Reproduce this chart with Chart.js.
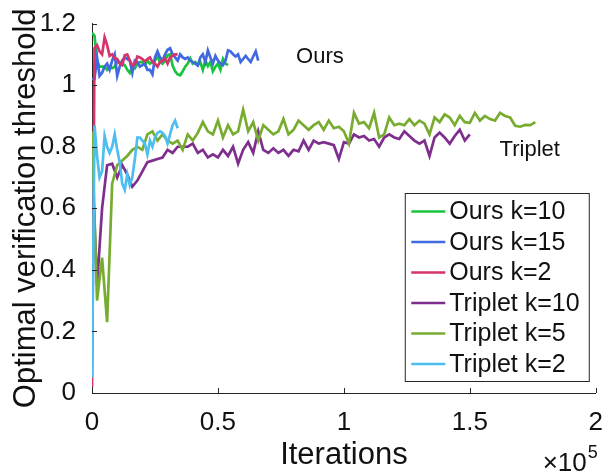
<!DOCTYPE html>
<html>
<head>
<meta charset="utf-8">
<script src="https://cdn.jsdelivr.net/npm/chart.js@4.4.0/dist/chart.umd.min.js"></script>
<style>
html, body { margin: 0; padding: 0; background: #fff; }
canvas { display: block; }
</style>
</head>
<body>
<canvas id="chart" width="609" height="474"></canvas>
<script>
var seriesNames = ["Ours k=10", "Ours k=15", "Ours k=2", "Triplet k=10", "Triplet k=5", "Triplet k=2"];
var seriesColors = ["#18c43c", "#4169e1", "#d6336b", "#7e2f8e", "#77ac30", "#4dbeee"];
var seriesSteps = [1000, 1000, 1000, 2000, 2000, 1000]; // iterations between samples

var oursK10 = [
    1.17, 1.16, 1.08, 1.06, 1.06, 1.06, 1.05, 1.06, 1.055, 1.06,
    1.075, 1.075, 1.07, 1.065, 1.05, 1.04, 1.06, 1.055, 1.07, 1.075,
    1.075, 1.065, 1.08, 1.07, 1.075, 1.08, 1.093, 1.075, 1.07, 1.08,
    1.097, 1.10, 1.064, 1.045, 1.035, 1.032, 1.045, 1.06, 1.07, 1.087,
    1.07, 1.075, 1.065, 1.075, 1.05, 1.08, 1.062, 1.075, 1.045, 1.06,
    1.07, 1.05, 1.085, 1.07, 1.065
];
var oursK15 = [
    1.02, 1.02, 1.09, 1.03, 1.04, 1.06, 1.07, 1.05, 1.08, 1.10,
    1.03, 1.06, 1.08, 1.09, 1.085, 1.08, 1.04, 1.08, 1.075, 1.06,
    1.065, 1.07, 1.05, 1.05, 1.035, 1.09, 1.11, 1.09, 1.08, 1.10,
    1.115, 1.12, 1.10, 1.09, 1.08, 1.10, 1.09, 1.085, 1.09, 1.08,
    1.075, 1.07, 1.064, 1.09, 1.10, 1.075, 1.113, 1.09, 1.07, 1.095,
    1.08, 1.07, 1.065, 1.08, 1.113, 1.11, 1.10, 1.093, 1.10, 1.075,
    1.085, 1.095, 1.085, 1.075, 1.093, 1.11, 1.08
];
var oursK2 = [
    0.02, 1.12, 1.13, 1.11, 1.10, 1.155, 1.13, 1.095, 1.10, 1.087,
    1.085, 1.07, 1.065, 1.097, 1.10, 1.08, 1.064, 1.068, 1.093, 1.09,
    1.085, 1.077, 1.085, 1.09, 1.075, 1.07, 1.06, 1.075, 1.08, 1.087,
    1.07, 1.09, 1.095, 1.10, 1.10
];
var tripletK10 = [
    0.75, 0.35, 0.60, 0.74, 0.745, 0.70, 0.74, 0.71, 0.67, 0.69,
    0.72, 0.75, 0.755, 0.76, 0.765, 0.79, 0.78, 0.80, 0.80, 0.80,
    0.81, 0.78, 0.79, 0.765, 0.775, 0.765, 0.79, 0.77, 0.80, 0.745,
    0.79, 0.815, 0.78, 0.85, 0.79, 0.78, 0.795, 0.78, 0.79, 0.77,
    0.79, 0.785, 0.82, 0.79, 0.82, 0.81, 0.815, 0.81, 0.805, 0.76,
    0.815, 0.81, 0.84, 0.83, 0.835, 0.82, 0.825, 0.80, 0.83, 0.84,
    0.83, 0.825, 0.85, 0.835, 0.82, 0.81, 0.82, 0.77, 0.83, 0.846,
    0.83, 0.81, 0.835, 0.855, 0.82, 0.84
];
var tripletK5 = [
    0.85, 0.30, 0.44, 0.23, 0.68, 0.74, 0.755, 0.77, 0.79, 0.80,
    0.79, 0.84, 0.85, 0.82, 0.84, 0.82, 0.81, 0.82, 0.79, 0.84,
    0.82, 0.845, 0.88, 0.85, 0.84, 0.885, 0.83, 0.87, 0.84, 0.85,
    0.92, 0.85, 0.88, 0.82, 0.87, 0.855, 0.84, 0.85, 0.89, 0.84,
    0.855, 0.885, 0.87, 0.855, 0.87, 0.88, 0.855, 0.885, 0.86, 0.865,
    0.85, 0.81, 0.91, 0.875, 0.88, 0.86, 0.91, 0.83, 0.84, 0.895,
    0.87, 0.875, 0.87, 0.89, 0.87, 0.885, 0.875, 0.84, 0.895, 0.88,
    0.905, 0.895, 0.87, 0.90, 0.88, 0.878, 0.91, 0.885, 0.90, 0.89,
    0.885, 0.91, 0.90, 0.895, 0.868, 0.865, 0.871, 0.87, 0.88
];
var tripletK2 = [
    0.05, 0.87, 0.77, 0.70, 0.72, 0.835, 0.80, 0.78, 0.80, 0.84,
    0.79, 0.75, 0.68, 0.66, 0.71, 0.675, 0.70, 0.76, 0.83, 0.83,
    0.82, 0.81, 0.775, 0.82, 0.80, 0.83, 0.845, 0.85, 0.845, 0.835,
    0.81, 0.84, 0.87, 0.885, 0.86
];

var xTicks = [0, 50000, 100000, 150000, 200000];
var yTicks = [0, 0.2, 0.4, 0.6, 0.8, 1, 1.2];
var notes = [
    { text: "Ours", x: 90500, y: 1.093 },
    { text: "Triplet", x: 173800, y: 0.788 }
];

var allValues = [oursK10, oursK15, oursK2, tripletK10, tripletK5, tripletK2];
var axisColor = "#262626";
var textColor = "#111";
var fontFamily = "'Liberation Sans', Arial, sans-serif";

var toPoints = function (values, step) {
    return values.map(function (v, i) {
        return { x: i * step, y: v };
    });
};

var datasets = allValues.map(function (vals, i) {
    return {
        label: seriesNames[i],
        data: toPoints(vals, seriesSteps[i]),
        borderColor: seriesColors[i],
        backgroundColor: seriesColors[i],
        borderWidth: 2.7,
        pointRadius: 0,
        fill: false,
        tension: 0,
        order: allValues.length - i // later series on top, as in the figure
    };
});

// inward ticks, x10^5 multiplier, text notes and the boxed legend
var extras = {
    id: "extras",
    afterDraw: function (chart) {
        var ctx = chart.ctx;
        var xs = chart.scales.x, ys = chart.scales.y;
        var area = chart.chartArea;
        ctx.save();
        ctx.strokeStyle = axisColor;
        ctx.lineWidth = 1;
        xTicks.forEach(function (t) {
            var px = Math.round(xs.getPixelForValue(t)) + 0.5;
            ctx.beginPath();
            ctx.moveTo(px, area.bottom);
            ctx.lineTo(px, area.bottom - 5);
            ctx.stroke();
        });
        yTicks.forEach(function (t) {
            var py = Math.round(ys.getPixelForValue(t)) + 0.5;
            ctx.beginPath();
            ctx.moveTo(area.left, py);
            ctx.lineTo(area.left + 5, py);
            ctx.stroke();
        });

        ctx.fillStyle = textColor;
        ctx.textBaseline = "alphabetic";
        ctx.textAlign = "right";
        ctx.font = "26px " + fontFamily;
        ctx.fillText("\u00d710", area.right - 9, 471);
        ctx.textAlign = "left";
        ctx.font = "18px " + fontFamily;
        ctx.fillText("5", area.right - 8, 458);

        ctx.font = "22px " + fontFamily;
        ctx.textAlign = "center";
        ctx.textBaseline = "middle";
        notes.forEach(function (n) {
            ctx.fillText(n.text, xs.getPixelForValue(n.x), ys.getPixelForValue(n.y));
        });

        // legend box
        var boxW = 184, boxH = 188;
        var bx = area.right - 7 - boxW + 0.5;
        var by = area.bottom - 12 - boxH + 0.5;
        ctx.fillStyle = "#fff";
        ctx.fillRect(bx, by, boxW, boxH);
        ctx.strokeStyle = axisColor;
        ctx.lineWidth = 1;
        ctx.strokeRect(bx, by, boxW, boxH);
        ctx.font = "25px " + fontFamily;
        ctx.textAlign = "left";
        chart.data.datasets.forEach(function (ds, i) {
            var cy = by + 18 + i * 30.5;
            ctx.strokeStyle = ds.borderColor;
            ctx.lineWidth = 2.7;
            ctx.beginPath();
            ctx.moveTo(bx + 6, cy);
            ctx.lineTo(bx + 40, cy);
            ctx.stroke();
            ctx.fillStyle = textColor;
            ctx.fillText(ds.label, bx + 44, cy + 1);
        });
        ctx.restore();
    }
};

new Chart(document.getElementById("chart"), {
    type: "line",
    data: { datasets: datasets },
    plugins: [extras],
    options: {
        responsive: false,
        animation: false,
        devicePixelRatio: 1,
        layout: { padding: { left: 0, right: 12, top: 20, bottom: 0 } },
        plugins: {
            legend: { display: false },
            tooltip: { enabled: false }
        },
        scales: {
            x: {
                type: "linear",
                min: 0,
                max: 200000,
                afterBuildTicks: function (s) {
                    s.ticks = xTicks.map(function (v) { return { value: v }; });
                },
                afterFit: function (s) { s.height = 81; },
                grid: { display: false },
                border: { display: true, color: axisColor, width: 1 },
                ticks: {
                    color: textColor,
                    padding: 6,
                    maxRotation: 0,
                    font: { family: fontFamily, size: 26 },
                    callback: function (v) { return String(v / 100000); }
                },
                title: {
                    display: true,
                    text: "Iterations",
                    color: textColor,
                    font: { family: fontFamily, size: 31 },
                    padding: { top: 0, bottom: 0 }
                }
            },
            y: {
                type: "linear",
                min: 0,
                max: 1.2,
                afterBuildTicks: function (s) {
                    s.ticks = yTicks.map(function (v) { return { value: v }; });
                },
                afterFit: function (s) { s.width = 92; },
                grid: { display: false },
                border: { display: true, color: axisColor, width: 1 },
                ticks: {
                    color: textColor,
                    padding: 8,
                    font: { family: fontFamily, size: 26 },
                    callback: function (v) { return String(Math.round(v * 10) / 10); }
                },
                title: {
                    display: true,
                    text: "Optimal verification threshold",
                    color: textColor,
                    font: { family: fontFamily, size: 31 },
                    padding: { top: 8, bottom: 0 }
                }
            }
        }
    }
});
</script>
</body>
</html>
